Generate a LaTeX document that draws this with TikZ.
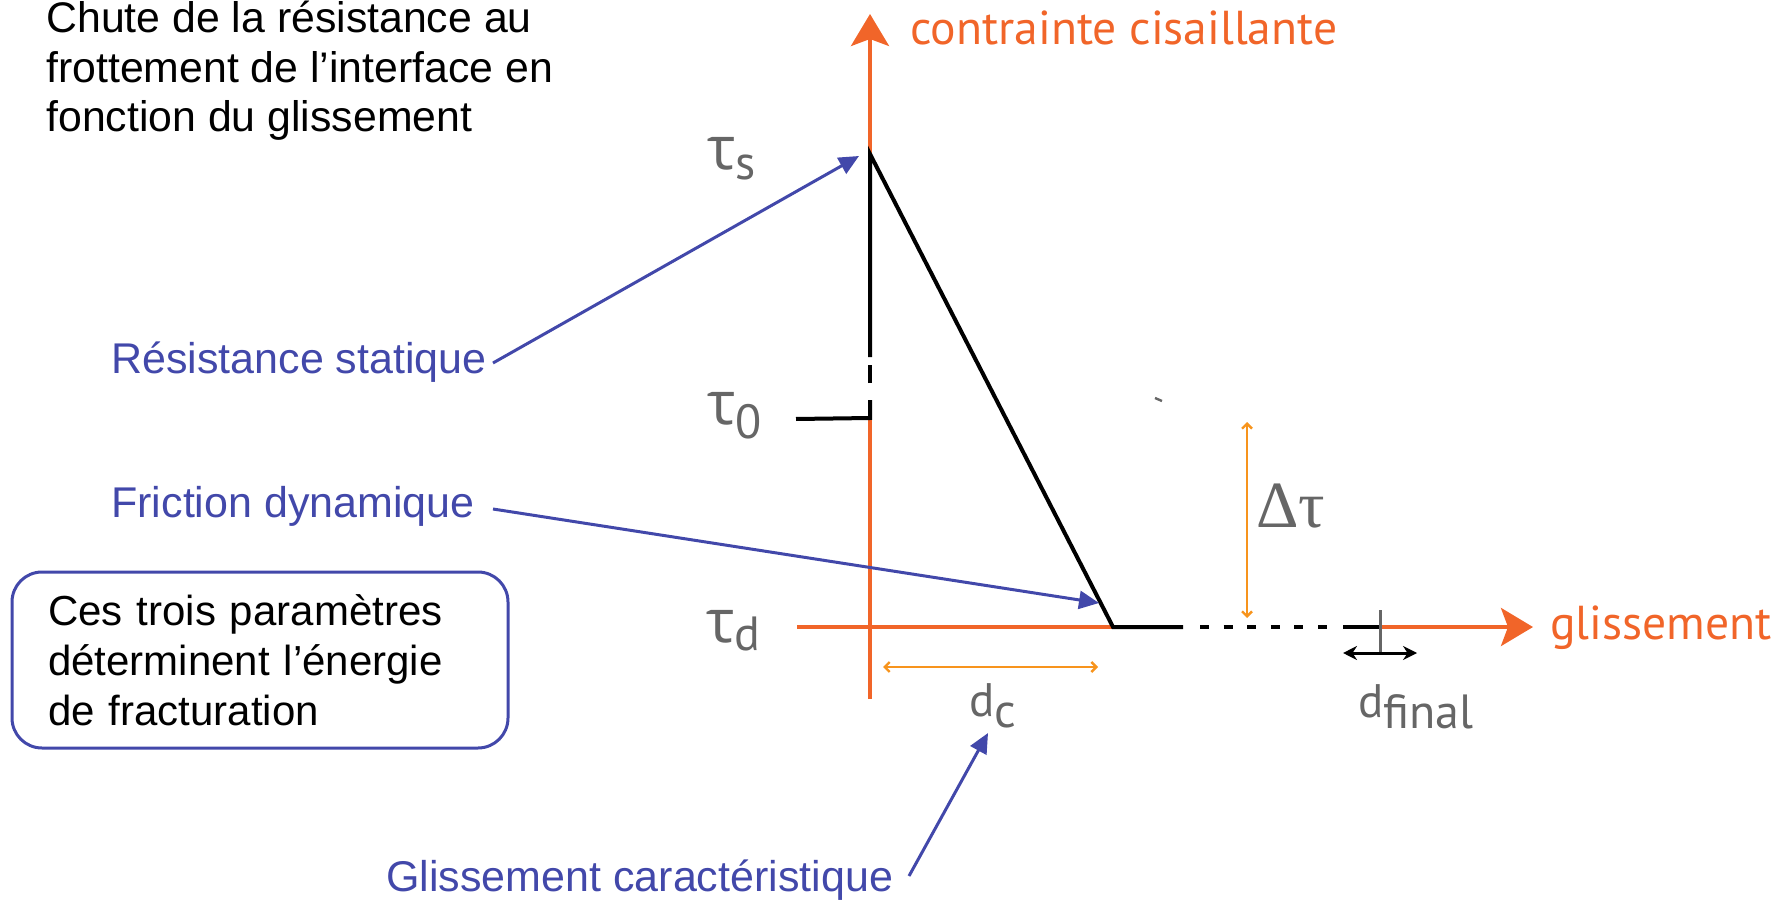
\documentclass[tikz,border=0pt]{standalone}
\usepackage{fontspec}
\setmainfont{Liberation Sans}
\newfontfamily\myr{PT Sans}
\newfontfamily\grk{Open Sans}
\newfontfamily\srf{Liberation Serif}
\usetikzlibrary{arrows.meta}
\definecolor{axo}{RGB}{241,101,41}
\definecolor{lto}{RGB}{247,148,29}
\definecolor{blu}{RGB}{66,72,170}
\definecolor{gry}{RGB}{102,102,102}
\begin{document}
\begin{tikzpicture}[x=0.5pt,y=-0.5pt,
  axis/.style={draw=axo, line width=2pt, -{Stealth[length=16pt,width=19pt,inset=3.5pt]}},
  curve/.style={draw=black, line width=2pt},
  gapline/.style={draw=white, line width=3pt},
  bluarr/.style={draw=blu, line width=1.5pt, -{Triangle[length=10pt,width=9pt]}},
  dimarr/.style={draw=lto, line width=1.2pt, {Straight Barb[length=2.5pt,width=5pt]}-{Straight Barb[length=2.5pt,width=5pt]}},
  finarr/.style={draw=black, line width=1.5pt, {Stealth[length=7pt,width=7pt]}-{Stealth[length=7pt,width=7pt]}},
  ticklin/.style={draw=gry, line width=1.5pt},
  bluetxt/.style={text=blu, font=\fontsize{21.5}{25}\selectfont, inner sep=0pt, anchor=west},
  titletxt/.style={text=black, font=\fontsize{21.4}{25}\selectfont, inner sep=0pt, anchor=base west},
  orangetxt/.style={text=axo, font=\myr\fontsize{23.8}{28}\selectfont, inner sep=0pt, anchor=base west},
  graytxt/.style={text=gry, inner sep=0pt, anchor=base west},
  infobox/.style={draw=blu, line width=1.5pt, rounded corners=15pt, minimum width=248pt, minimum height=88pt,
     inner xsep=18pt, text width=212pt, align=left, font=\fontsize{21}{25}\selectfont}
]
\useasboundingbox (0,0) rectangle (1791,903);

% coordinates
\coordinate (ytop) at (870,14);
\coordinate (ybot) at (870,699);
\coordinate (xleft) at (797,627);
\coordinate (xtip) at (1533,627);
\coordinate (peak) at (870,154);
\coordinate (b1) at (870,357);
\coordinate (b2) at (870,365);
\coordinate (b3) at (870,383);
\coordinate (b4) at (870,400);
\coordinate (t0r) at (870,418);
\coordinate (t0l) at (796,419);
\coordinate (dcorner) at (1113,627);
\coordinate (s1) at (1183,627);
\coordinate (s2) at (1200,627);
\coordinate (s3) at (1328,627);
\coordinate (s4) at (1343,627);
\coordinate (s5) at (1380,627);
\coordinate (tk1) at (1380,610);
\coordinate (tk2) at (1380,652);
\coordinate (fa1) at (1343,653);
\coordinate (fa2) at (1417,653);
\coordinate (dc1) at (883,667);
\coordinate (dc2) at (1098,667);
\coordinate (dt1) at (1247,422);
\coordinate (dt2) at (1247,618);
\coordinate (st1) at (1155,398);
\coordinate (st2) at (1162,401);

% axes
\draw[axis] (ybot) -- (ytop);
\draw[axis] (xleft) -- (xtip);

% friction curve
\draw[gapline] (b1) -- (b2);
\draw[gapline] (b3) -- (b4);
\draw[draw=white, line width=2.6pt] (s1) -- (s4);
\draw[curve] (t0l) -- (t0r) -- (b4);
\draw[curve] (b3) -- (b2);
\draw[curve] (b1) -- (peak) -- (dcorner) -- (s1);
\draw[curve, dash pattern=on 4.5pt off 7.3pt] (s2) -- (s3);
\draw[curve] (s4) -- (s5);
\draw[ticklin] (tk1) -- (tk2);
\draw[finarr] (fa1) -- (fa2);
\draw[dimarr] (dc1) -- (dc2);
\draw[dimarr] (dt1) -- (dt2);
\draw[draw=gry, line width=1.2pt] (st1) -- (st2);

% axis labels
\node[orangetxt] (ylab) at (910,45) {contrainte cisaillante};
\node[orangetxt] (xlab) at (1550,639) {glissement};

% tau labels
\node[graytxt] (taus) at (707,170) {{\grk\fontsize{30}{34}\selectfont τ}\raisebox{-5pt}{\myr\fontsize{24}{28}\selectfont s}};
\node[graytxt] (tau0) at (707,424) {{\grk\fontsize{30}{34}\selectfont τ}\raisebox{-7pt}{\myr\fontsize{24}{28}\selectfont 0}};
\node[graytxt] (taud) at (706,642) {{\grk\fontsize{30}{34}\selectfont τ}\raisebox{-4pt}{\myr\fontsize{24}{28}\selectfont d}};
\node[graytxt] (dtau) at (1256,527) {\srf\fontsize{33}{36}\selectfont Δτ};
\node[graytxt] (dc) at (969,716) {{\myr\fontsize{23.5}{26}\selectfont d}\raisebox{-5.5pt}{\myr\fontsize{24}{28}\selectfont c}};
\node[graytxt] (dfin) at (1358,717) {{\myr\fontsize{23.5}{26}\selectfont d}\raisebox{-5.5pt}{\myr\fontsize{24}{28}\selectfont final}};

% title
\node[titletxt] (title1) at (46,33) {Chute de la résistance au};
\node[titletxt] (title2) at (46,83) {frottement de l’interface en};
\node[titletxt] (title3) at (46,132) {fonction du glissement};

% blue labels
\node[bluetxt] (rs) at (111,362) {Résistance statique};
\node[bluetxt] (fd) at (111,506) {Friction dynamique};
\node[bluetxt] (gc) at (386,880) {Glissement caractéristique};

\coordinate (rsa) at (493,363);
\coordinate (rsb) at (859,156);
\coordinate (fda) at (493,509);
\coordinate (fdb) at (1099,603);
\coordinate (gca) at (909,876);
\coordinate (gcb) at (988,733);
\draw[bluarr] (rsa) -- (rsb);
\draw[bluarr] (fda) -- (fdb);
\draw[bluarr] (gca) -- (gcb);

% info box
\node[infobox] (box) at (260,660) {Ces trois paramètres\\ déterminent l’énergie\\ de fracturation};
\end{tikzpicture}
\end{document}
